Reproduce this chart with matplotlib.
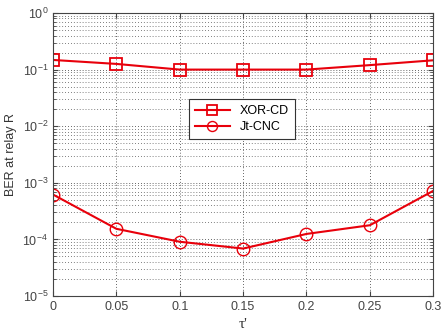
import matplotlib
matplotlib.use("Agg")
import matplotlib.pyplot as plt
from matplotlib.ticker import LogLocator, NullFormatter

plt.rcParams['font.family'] = ['Liberation Sans', 'DejaVu Sans']

# data
tau = [0, 0.05, 0.1, 0.15, 0.2, 0.25, 0.3]
ber_xor = [0.148, 0.126, 0.1, 0.1, 0.1, 0.12, 0.146]
ber_jt = [6.2e-4, 1.54e-4, 9.1e-5, 6.9e-5, 1.25e-4, 1.78e-4, 7.2e-4]
xticks = [0, 0.05, 0.1, 0.15, 0.2, 0.25, 0.3]
xticklabels = ["0", "0.05", "0.1", "0.15", "0.2", "0.25", "0.3"]

fig = plt.figure(figsize=(4.42, 3.33), dpi=100)
ax = fig.add_axes([0.12, 0.111, 0.86, 0.85])

ax.semilogy(tau, ber_xor, '-s', color='#e8000b', lw=1.5, ms=9,
            mfc='none', mew=1.3, label='XOR-CD')
ax.semilogy(tau, ber_jt, '-o', color='#e8000b', lw=1.5, ms=9,
            mfc='none', mew=1.0, label='Jt-CNC')

ax.set_xlim(0, 0.3)
ax.set_ylim(1e-5, 1e0)
ax.set_xticks(xticks)
ax.set_xticklabels(xticklabels)
ax.yaxis.set_major_locator(LogLocator(base=10, numticks=10))
ax.yaxis.set_minor_locator(LogLocator(base=10, subs=range(2, 10), numticks=20))
ax.yaxis.set_minor_formatter(NullFormatter())

ax.grid(True, which='major', ls=(0, (1, 2.5)), color='#333333', lw=0.6)
ax.grid(True, which='minor', axis='y', ls=(0, (1, 2.5)), color='#555555', lw=0.6)
ax.tick_params(which='both', direction='in', labelsize=9, top=True, right=True,
               colors='#444444', labelcolor='#444444')
ax.tick_params(which='minor', length=2)
for s in ax.spines.values():
    s.set_color('#444444')

ax.set_ylabel('BER at relay R', fontsize=9, color='#333333')
ax.set_xlabel("τ'", fontsize=11, family=['Liberation Serif', 'DejaVu Serif'],
              color='#333333')

leg = ax.legend(loc='center', bbox_to_anchor=(0.497, 0.625), fontsize=9,
                fancybox=False, framealpha=1, edgecolor='#333333',
                handlelength=2.8, borderpad=0.5, labelspacing=0.3,
                markerscale=0.8)
leg.get_frame().set_linewidth(0.8)

fig.savefig('out.png', dpi=100)
